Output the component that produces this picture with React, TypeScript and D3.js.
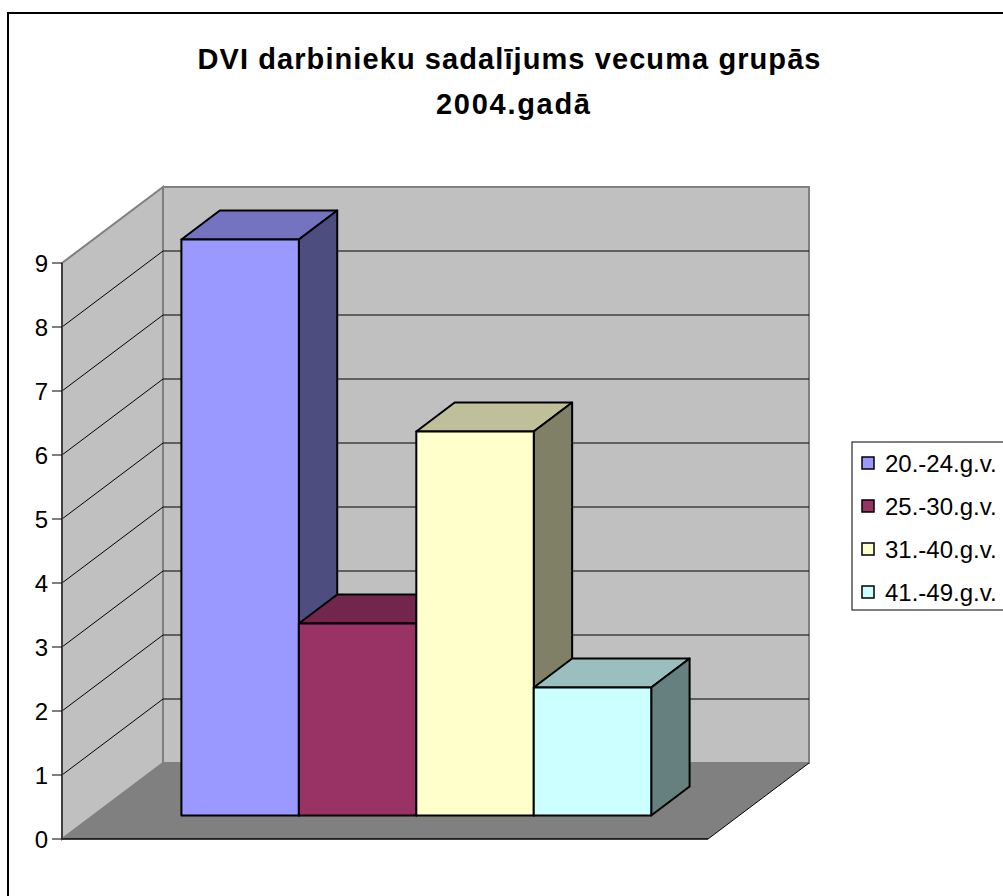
import React from 'react';
import * as d3 from 'd3';

// data
const categories = ['20.-24.g.v.', '25.-30.g.v.', '31.-40.g.v.', '41.-49.g.v.'];
const values = [9, 3, 6, 2];
const yTicks = [0, 1, 2, 3, 4, 5, 6, 7, 8, 9];
const titleLines = ['DVI darbinieku sadalījums vecuma grupās', '2004.gadā'];

const frontColors = ['#9999FF', '#993366', '#FFFFCC', '#CCFFFF'];

const W = 1003;
const H = 896;
const FONT = "'Liberation Sans', Arial, sans-serif";

// 3d frame
const x0 = 62; // front left corner of floor
const floorW = 646;
const depthX = 101;
const depthY = -76;
const barDepthStart = 0.31;
const barDepthEnd = 0.69;

const App: React.FC = () => {
  const y = d3.scaleLinear().domain([0, 9]).range([839, 263]);
  const x = d3
    .scaleBand<string>()
    .domain(categories)
    .range([0, floorW])
    .paddingInner(0)
    .paddingOuter(0.75);

  const shade = (c: string, k: number) => {
    const rgb = d3.rgb(c);
    return d3.rgb(rgb.r * k, rgb.g * k, rgb.b * k).formatHex();
  };

  const pts = (p: [number, number][]) => p.map(q => q.join(',')).join(' ');

  const backL = x0 + depthX;
  const backR = x0 + floorW + depthX;
  const y0 = y(0);
  const yTop = y(9);

  const fx = barDepthStart * depthX;
  const fy = barDepthStart * depthY;
  const bdx = (barDepthEnd - barDepthStart) * depthX;
  const bdy = (barDepthEnd - barDepthStart) * depthY;

  return (
    <svg
      width={W}
      height={H}
      style={{ position: 'absolute', left: 0, top: 0, display: 'block', background: '#fff' }}
      fontFamily={FONT}
    >
      {/* chart area border */}
      <rect x={8} y={13} width={W + 20} height={H + 20} fill="#fff" stroke="#000" strokeWidth={2} />

      {/* title */}
      <text x={509} y={69} textAnchor="middle" fontSize={29} fontWeight="bold"
        textLength={623} lengthAdjust="spacing">{titleLines[0]}</text>
      <text x={513} y={114} textAnchor="middle" fontSize={29} fontWeight="bold"
        textLength={154} lengthAdjust="spacing">{titleLines[1]}</text>

      {/* back wall */}
      <rect x={backL} y={yTop + depthY} width={backR - backL} height={y0 - yTop}
        fill="#C0C0C0" stroke="#808080" strokeWidth={2} />
      {/* left wall */}
      <polygon
        points={pts([[x0, yTop], [backL, yTop + depthY], [backL, y0 + depthY], [x0, y0]])}
        fill="#C0C0C0" stroke="#808080" strokeWidth={2} />

      {/* gridlines */}
      {yTicks.filter(v => v > 0 && v < 9).map(v => (
        <g key={'g' + v}>
          <line x1={x0} y1={y(v)} x2={backL} y2={y(v) + depthY} stroke="#000" strokeWidth={1} />
          <line x1={backL} y1={y(v) + depthY} x2={backR} y2={y(v) + depthY} stroke="#000" strokeWidth={1} />
        </g>
      ))}

      {/* floor */}
      <polygon
        points={pts([[x0, y0], [backL, y0 + depthY], [backR, y0 + depthY], [x0 + floorW, y0]])}
        fill="#808080" stroke="none" />
      <line x1={x0} y1={y0} x2={x0 + floorW} y2={y0} stroke="#000" strokeWidth={1.5} />
      <line x1={x0 + floorW} y1={y0} x2={backR} y2={y0 + depthY} stroke="#000" strokeWidth={1} />

      {/* value axis */}
      <line x1={x0} y1={yTop} x2={x0} y2={y0} stroke="#404040" strokeWidth={2} />
      {yTicks.map(v => (
        <g key={'t' + v}>
          <line x1={52} y1={y(v)} x2={x0} y2={y(v)} stroke="#000" strokeWidth={1} />
          <text x={48} y={y(v)} dy="0.36em" textAnchor="end" fontSize={24}>{v}</text>
        </g>
      ))}

      {/* bars */}
      {categories.map((c, i) => {
        const l = x0 + fx + (x(c) ?? 0);
        const r = l + x.bandwidth();
        const b = y0 + fy;
        const t = y(values[i]) + fy;
        const col = frontColors[i];
        return (
          <g key={c} stroke="#000" strokeWidth={2} strokeLinejoin="round">
            <polygon points={pts([[l, t], [l + bdx, t + bdy], [r + bdx, t + bdy], [r, t]])}
              fill={shade(col, 0.75)} />
            <polygon points={pts([[r, t], [r + bdx, t + bdy], [r + bdx, b + bdy], [r, b]])}
              fill={shade(col, 0.5)} />
            <rect x={l} y={t} width={r - l} height={b - t} fill={col} />
          </g>
        );
      })}

      {/* legend */}
      <rect x={852} y={442} width={200} height={168} fill="#fff" stroke="#000" strokeWidth={1} />
      {categories.map((c, i) => {
        const cy = 463 + i * 43;
        return (
          <g key={'l' + c}>
            <rect x={862} y={cy - 6} width={12} height={12} fill={frontColors[i]} stroke="#000" strokeWidth={1.5} />
            <text x={885} y={cy} dy="0.36em" fontSize={24}>{c}</text>
          </g>
        );
      })}
    </svg>
  );
};

export default App;
